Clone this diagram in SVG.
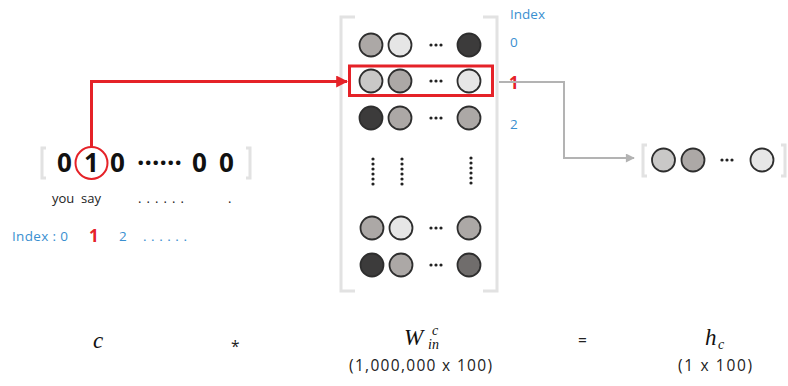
<svg xmlns="http://www.w3.org/2000/svg" width="788" height="386" viewBox="0 0 788 386">
  <style>
    .bracket { fill: none; stroke: #e2e2e2; stroke-width: 3; }
    .cell { stroke: #2e2e2e; stroke-width: 1.8; }
    .c1 { fill: #e6e6e6; }
    .c2 { fill: #c9c8c7; }
    .c3 { fill: #aca8a6; }
    .c4 { fill: #706d6c; }
    .c5 { fill: #3c3b3b; }
    .dot { fill: #222; }
    .vdots { stroke: #222; stroke-width: 3.2; stroke-linecap: round; stroke-dasharray: 0 5; }
    .digit { font-family: "Open Sans", "Noto Sans", sans-serif; font-weight: bold; font-size: 26px; fill: #111; }
    .word { font-family: "Open Sans", "Noto Sans", sans-serif; font-size: 13px; fill: #222; }
    .idx { font-family: "Open Sans", "Noto Sans", sans-serif; font-size: 13.5px; fill: #3a8fd0; }
    .idx-red { font-family: "Open Sans", "Noto Sans", sans-serif; font-size: 17px; font-weight: bold; fill: #e52228; }
    .math { font-family: "Liberation Serif", "DejaVu Serif", serif; font-style: italic; fill: #111; }
    .dim { font-family: "Open Sans", "Noto Sans", sans-serif; font-size: 15.5px; fill: #222; }
  </style>
  <defs>
    <!-- three-dot ellipsis used between cells -->
    <g id="ellipsis">
      <circle class="dot" cx="-5" cy="0" r="1.6"/>
      <circle class="dot" cx="0" cy="0" r="1.6"/>
      <circle class="dot" cx="5" cy="0" r="1.6"/>
    </g>
    <marker id="arrowRed" viewBox="0 0 10 10" refX="9" refY="5" markerWidth="4" markerHeight="4" orient="auto" markerUnits="strokeWidth">
      <path d="M0,0 L10,5 L0,10 z" fill="#e52228"/>
    </marker>
    <marker id="arrowGray" viewBox="0 0 10 10" refX="9" refY="5" markerWidth="5" markerHeight="4.5" orient="auto" markerUnits="strokeWidth">
      <path d="M0,0 L10,5 L0,10 z" fill="#b3b3b3"/>
    </marker>
  </defs>

  <rect width="788" height="386" fill="#ffffff"/>

  <!-- one-hot input vector c -->
  <g id="input-vector">
    <path class="bracket" d="M46,148 H42 V178 H46"/>
    <path class="bracket" d="M246,148 H250 V178 H246"/>
    <text class="digit" x="57" y="172">0</text>
    <text class="digit" x="84" y="172">1</text>
    <text class="digit" x="110" y="172">0</text>
    <text class="digit" x="137" y="172" textLength="45" lengthAdjust="spacing">······</text>
    <text class="digit" x="192" y="172">0</text>
    <text class="digit" x="219" y="172">0</text>
    <circle cx="91.5" cy="163" r="16" fill="none" stroke="#e52228" stroke-width="2"/>
    <text class="word" x="52" y="203">you</text>
    <text class="word" x="81" y="203">say</text>
    <text class="word" x="138" y="203" textLength="46" lengthAdjust="spacing">. . . . . .</text>
    <text class="word" x="228" y="203">.</text>
    <text class="idx" x="12" y="241" font-size="14" textLength="56" lengthAdjust="spacing">Index : 0</text>
    <text class="idx-red" x="89" y="242">1</text>
    <text class="idx" x="119" y="241">2</text>
    <text class="idx" x="143" y="241" textLength="44" lengthAdjust="spacing">. . . . . .</text>
  </g>

  <!-- weight matrix W_in -->
  <g id="weight-matrix">
    <path class="bracket" d="M355,17 H341 V291 H355"/>
    <path class="bracket" d="M483,17 H497 V291 H483"/>
    <!-- row 0 -->
    <circle class="cell c3" cx="371" cy="45" r="11.5"/>
    <circle class="cell c1" cx="400" cy="45" r="11.5"/>
    <use href="#ellipsis" x="436" y="45"/>
    <circle class="cell c5" cx="469" cy="45" r="11.5"/>
    <!-- row 1 -->
    <circle class="cell c2" cx="371" cy="81" r="11.5"/>
    <circle class="cell c3" cx="400" cy="81" r="11.5"/>
    <use href="#ellipsis" x="436" y="81"/>
    <circle class="cell c1" cx="469" cy="81" r="11.5"/>
    <!-- row 2 -->
    <circle class="cell c5" cx="371" cy="118" r="11.5"/>
    <circle class="cell c3" cx="400" cy="118" r="11.5"/>
    <use href="#ellipsis" x="436" y="118"/>
    <circle class="cell c3" cx="469" cy="118" r="11.5"/>
    <!-- elided rows -->
    <line class="vdots" x1="373" y1="159" x2="373" y2="189"/>
    <line class="vdots" x1="402" y1="159" x2="402" y2="189"/>
    <line class="vdots" x1="471" y1="158" x2="471" y2="188"/>
    <!-- row n-1 -->
    <circle class="cell c3" cx="372" cy="228" r="11.5"/>
    <circle class="cell c1" cx="401" cy="228" r="11.5"/>
    <use href="#ellipsis" x="436" y="228"/>
    <circle class="cell c3" cx="469" cy="228" r="11.5"/>
    <!-- row n -->
    <circle class="cell c5" cx="372" cy="265" r="11.5"/>
    <circle class="cell c3" cx="401" cy="265" r="11.5"/>
    <use href="#ellipsis" x="436" y="265"/>
    <circle class="cell c4" cx="469" cy="265" r="11.5"/>
    <!-- selected row -->
    <rect x="349.5" y="66" width="143" height="29.5" fill="none" stroke="#e52228" stroke-width="3"/>
    <!-- row indices -->
    <text class="idx" x="510" y="19">Index</text>
    <text class="idx" x="510" y="47">0</text>
    <text class="idx-red" x="509" y="89">1</text>
    <text class="idx" x="510" y="129">2</text>
  </g>

  <!-- hidden vector h_c -->
  <g id="hidden-vector">
    <path class="bracket" d="M647,145 H643 V176 H647"/>
    <path class="bracket" d="M781,145 H785 V176 H781"/>
    <circle class="cell c2" cx="663.5" cy="160" r="11.5"/>
    <circle class="cell c3" cx="693" cy="160" r="11.5"/>
    <use href="#ellipsis" x="727" y="160"/>
    <circle class="cell c1" cx="762" cy="160" r="11.5"/>
  </g>

  <!-- connectors -->
  <g id="connectors">
    <polyline points="91.5,147 91.5,81.5 347,81.5" fill="none" stroke="#e52228" stroke-width="3" marker-end="url(#arrowRed)"/>
    <polyline points="499,82 564,82 564,158 634,158" fill="none" stroke="#b3b3b3" stroke-width="2" marker-end="url(#arrowGray)"/>
  </g>

  <!-- equation c * W_in^c = h_c -->
  <g id="equation">
    <text class="math" x="93" y="348" font-size="23">c</text>
    <text class="dim" x="231" y="352" font-size="18">*</text>
    <text class="math" x="404" y="345" font-size="23">W</text>
    <text class="math" x="432" y="335" font-size="14">c</text>
    <text class="math" x="428" y="349" font-size="14">in</text>
    <text class="dim" x="349" y="371" textLength="143" lengthAdjust="spacing">(1,000,000 x 100)</text>
    <text class="dim" x="578" y="346">=</text>
    <text class="math" x="705" y="345" font-size="23">h</text>
    <text class="math" x="718" y="349" font-size="14">c</text>
    <text class="dim" x="678" y="371" textLength="74" lengthAdjust="spacing">(1 x 100)</text>
  </g>
</svg>
